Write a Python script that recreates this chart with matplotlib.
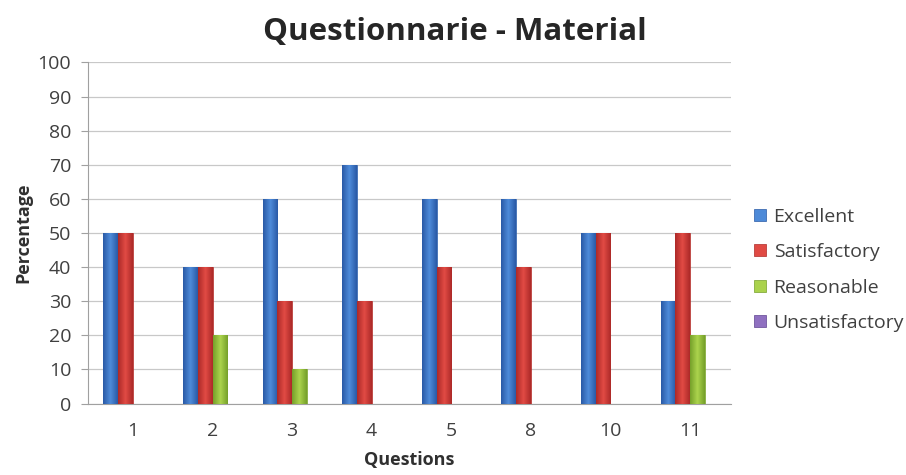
import matplotlib

matplotlib.use('Agg')
import matplotlib.pyplot as plt
import numpy as np
from matplotlib.colors import LinearSegmentedColormap

plt.rcParams['font.family'] = ['Open Sans', 'DejaVu Sans']

questions = ['1', '2', '3', '4', '5', '8', '10', '11']
excellent = [50, 40, 60, 70, 60, 60, 50, 30]
satisfactory = [50, 40, 30, 30, 40, 40, 50, 50]
reasonable = [0, 20, 10, 0, 0, 0, 0, 20]
unsatisfactory = [0, 0, 0, 0, 0, 0, 0, 0]

# name, values, (edge colour, centre colour)
series = [
  ('Excellent', excellent, ('#2a5aa6', '#4d8ad8')),
  ('Satisfactory', satisfactory, ('#ad2a28', '#e04a44')),
  ('Reasonable', reasonable, ('#76a02a', '#aad24c')),
  ('Unsatisfactory', unsatisfactory, ('#5f4490', '#8f70c0')),
]

fig = plt.figure(figsize=(9.06, 4.75), dpi=100)
ax = fig.add_axes([0.0971, 0.1505, 0.7097, 0.718])

x = np.arange(len(questions))
w = 0.185
grad = np.array([np.concatenate([np.linspace(0, 1, 20), np.linspace(1, 0, 20)])])
for i, (name, vals, (dark, light)) in enumerate(series):
  cmap = LinearSegmentedColormap.from_list(name, [dark, light])
  bars = ax.bar(x + (i - 1.5) * w, vals, width=w, color=light, edgecolor=dark,
                linewidth=0.5, label=name, zorder=3)
  # horizontal shading inside every bar, like the spreadsheet look
  for b in bars:
    if b.get_height() <= 0:
      continue
    x0, y0 = b.get_x(), b.get_y()
    im = ax.imshow(grad, cmap=cmap, aspect='auto', zorder=3.5,
                   extent=[x0, x0 + b.get_width(), y0, y0 + b.get_height()])
    im.set_clip_path(b)

ax.set_xlim(-0.565, len(questions) - 0.485)
ax.set_ylim(0, 100)
ax.set_yticks(range(0, 101, 10))
ax.set_xticks(x)
ax.set_xticklabels(questions)
ax.grid(axis='y', color='#c8c8c8', lw=0.9, zorder=0)
for s in ('top', 'right'):
  ax.spines[s].set_visible(False)
ax.spines['left'].set_color('#a0a0a0')
ax.spines['bottom'].set_color('#a0a0a0')
ax.tick_params(axis='y', colors='#a0a0a0', labelcolor='#404040',
               labelsize=14, length=5, pad=7)
ax.tick_params(axis='x', length=0, labelcolor='#404040', labelsize=14, pad=13)

ax.set_xlabel('Questions', fontsize=13, fontweight='bold', color='#303030', labelpad=8)
ax.set_ylabel('Percentage', fontsize=13, fontweight='bold', color='#303030', labelpad=4)
fig.suptitle('Questionnarie - Material', x=0.502, y=0.965, fontsize=22.5,
             fontweight='bold', color='#262626')

ax.legend(loc='center left', bbox_to_anchor=(1.024, 0.392), borderaxespad=0,
          frameon=False, fontsize=14, handlelength=0.6, handleheight=0.6,
          handletextpad=0.4, labelspacing=0.9, labelcolor='#404040')

fig.savefig('out.png', dpi=100)
